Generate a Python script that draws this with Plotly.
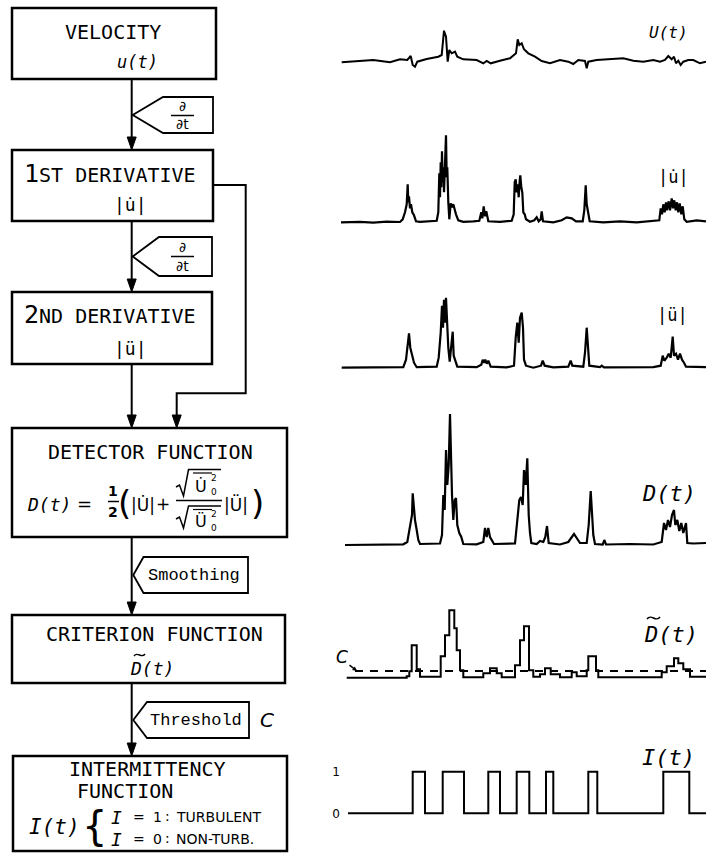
import plotly.graph_objects as go

W, H = 706, 864

# ---------------- signal data (time in samples, amplitude in trace units) ----------------
u_t = [0.7, 19, 32.3, 49, 59, 66.3, 69.7, 71.7, 74, 76.3, 85.7, 97.3, 100.7, 103, 105, 106.7, 108.3,
       110.7, 114, 116.3, 122.3, 135.7, 142.3, 145.7, 149.7, 159, 169, 175, 176.7, 178.3, 180.7, 183,
       187.3, 194, 200.7, 209, 219, 227.3, 232.3, 237.3, 244, 245.7, 247.3, 255.7, 269, 282.3, 292.3,
       302.3, 312.3, 319, 324, 327.3, 330.7, 333, 335, 337.3, 339.7, 342.3, 347.3, 352.3, 359, 365]
u_v = [-0.3, 1.3, 2, -0.3, 2.7, 2, 6, -3, -4.7, 0.3, 3, 5.3, 7, 31.3, 25.3, 0.3, 12,
       8.7, 10.3, 5.3, 2.7, 2, -1.3, 1, -1.3, 1.3, 3.7, 8.7, 22.7, 17, 18.7, 12.7,
       8.7, 5.3, 1, -1.3, 2, 0.3, -2, 2, 1, -6.3, 0.3, 2, 2.7, 3.7, 1.3,
       0.3, 2, 0.3, 2, 6, 2.7, 5.3, -1.3, 1.3, -3, 0.3, 2, 2, -1.3, 0.3]

du_t = [0, 19, 32.3, 45.7, 59, 61.7, 64, 65.7, 66.7, 67.3, 68, 69, 70, 71.3, 73, 75, 79, 89, 95.7,
        97.3, 98.3, 99, 99.7, 100.3, 101, 101.7, 102.3, 103, 104, 105, 105.7, 106.3, 107.3, 108.3,
        109.7, 111, 112.3, 113.7, 115, 117.3, 122.3, 132.3, 138.3, 140.3, 141.3, 142.7, 144, 145.3,
        147.3, 159, 170.7, 172.7, 173.7, 174.7, 175.7, 176.7, 177.7, 178.7, 179.3, 180.3, 181.3,
        182.3, 183.7, 185, 189, 193.3, 195.7, 197.7, 199.7, 200.7, 202, 212.3, 220.7, 225.7, 230.7,
        235, 241.7, 243.3, 244.7, 245.7, 247, 248.7, 262.3, 279, 295.7, 312.3, 318.3, 319.7, 321,
        322.3, 323.7, 325, 326, 327.7, 329, 330.7, 332, 333.3, 334.7, 336, 337.3, 338.7, 340.3,
        341.7, 343.3, 345.7, 355.7, 365]
du_v = [0, 0.5, -0.3, 0.7, 0.3, 3, 10, 18, 38, 20, 26, 14, 18, 10, 7, 1, 0.5, 1, 1.5,
        10, 49, 25, 60, 35, 71, 40, 55, 30, 62, 87, 45, 55, 20, 3,
        19, 15, 18, 12, 8, 2, 0.5, 1, 1.5, 10, 4, 16, 6, 11,
        1, 0.5, 1.5, 8, 40, 43, 30, 38, 25, 42, 47, 35, 30,
        10, 8, 3, 0.5, 2, 5, 1, 3, 11, 1, 0, 2, 5, 4,
        1, 1, 12, 37, 18, 10, 1, 0, 1, 0, 1, 2, 14, 8,
        18, 10, 20, 12, 21, 12, 24, 14, 22, 12, 20, 10, 19, 8,
        16, 3, 0.5, 2, 1]

ddu_t = [0.7, 29, 45.7, 62.3, 65, 67, 68, 69.3, 71, 73, 75.7, 95.7, 97.7, 99.7, 101, 102, 103, 104,
         105, 106, 107.3, 108.7, 110, 111.7, 112.7, 114.3, 116.3, 135.7, 140.3, 141.7, 143, 144.3,
         145.7, 147.3, 149.7, 165.7, 173, 174.7, 176.3, 177.7, 179, 180.7, 182, 183, 185, 192.3, 200,
         201.7, 203.7, 212.3, 227.3, 229.7, 231.3, 242.3, 244, 245.7, 247, 248.3, 259, 260.7, 263,
         285.7, 312.3, 319.7, 321.7, 323.3, 325.7, 327.7, 329.7, 331.7, 333, 335, 337, 339, 341, 343,
         345, 365]
ddu_v = [0, 0.3, 0.7, 0.5, 8, 25, 34.3, 20, 12, 5, 0.5, 1, 10, 35, 62, 40, 68, 45,
         70, 38, 20, 6, 18, 36, 12, 7, 1, 0.5, 3, 8, 5, 8,
         4, 7, 1, 0.3, 2, 30, 45, 25, 50, 55, 40, 8, 2, 0, 2,
         7, 2, 0.3, 1, 7, 2, 1, 15, 40, 15, 2, 0.5, 2, 0.3,
         0.5, 0.5, 2, 12, 7, 10, 14, 10, 31, 12, 14, 8, 14, 8, 5,
         1, 0.5]

d_t = [4, 32.3, 45.7, 62.3, 66.3, 69, 71, 71.7, 72.7, 74, 75.7, 77.3, 79, 99, 101, 102.3, 103.7, 105,
       106.3, 107.7, 109, 110, 111, 112.3, 113.7, 115, 116.3, 118.3, 120.3, 122.3, 135.7, 142.3, 144,
       145.7, 147.3, 149, 151, 153, 174, 176.3, 178.3, 180, 181.7, 183, 184.7, 186.3, 187.7, 189,
       190.3, 195.7, 199, 202.3, 204.3, 206, 207.7, 219, 227.3, 233, 239, 245.7, 247.7, 249.7, 251,
       252.3, 254, 261.7, 263.3, 265, 289, 312.3, 320.7, 323, 325, 327, 329, 331, 333, 334.3, 336.3,
       338.3, 340.3, 342.3, 345, 346.3, 352.3, 365]
d_v = [0, 0.5, 1, 0.7, 3, 20, 30, 51.7, 35, 25, 15, 5, 1, 1.5, 10, 50, 35, 95,
       60, 80, 131, 70, 50, 25, 45, 47, 20, 12, 8, 1, 0.7, 3, 17,
       8, 17, 8, 4, 1, 1.5, 25, 45, 48, 40, 75, 60, 86.7, 30, 12,
       2, 1, 4, 3, 8, 19, 2, 0.5, 3, 11, 2, 2, 20, 54, 25,
       10, 1, 0.5, 5, 0.5, 1, 0.5, 3, 22, 15, 25, 18, 30, 35, 20, 25,
       14, 22, 12, 22, 2, 1.5, 2]

dt_t = [5.7, 65.7, 68.3, 70.7, 75.7, 79, 99.7, 104, 108.3, 113.3, 115.7, 119, 122.3, 142.3, 149,
        155.7, 160.7, 174, 179, 183, 188, 192.3, 199, 204, 209.7, 219, 230.7, 235.7, 245.7, 247.3,
        255, 257.3, 320.7, 325.7, 333, 337.3, 342.3, 349, 365]
dt_v = [0.5, 2, 7, 33, 9, 1.5, 22, 43, 68, 50, 28, 8, 1, 5, 10,
        5, 1, 13, 38, 52, 8, 1.5, 4, 10, 4, 1, 6, 2, 8, 22,
        8, 1, 6, 12, 20, 15, 9, 1.5, 1]
threshold_t = [14, 365]
threshold_c = [7.3, 7.3]

i_t = [7, 71.7, 84, 101.7, 123, 147.3, 159, 175.7, 188.3, 205, 212.3, 247.3, 256.3, 322.3, 348.3, 365]
i_v = [0, 1, 0, 1, 0, 1, 0, 1, 0, 1, 0, 1, 0, 1, 0, 0]
i_ticks = [0, 1]
i_ticklabels = ["0", "1"]

# ---------------- helpers ----------------
def px(x):
    return x / W

def py(y):
    return 1 - y / H

MONO = "DejaVu Sans Mono"
SANS = "DejaVu Sans"
COUR = "Liberation Mono"

fig = go.Figure()

# panels: (top_px, bottom_px, vmin, vmax)
panels = [
    (20, 80, -18, 42),
    (125, 235, -12.7, 97.3),
    (290, 380, -12.3, 77.7),
    (405, 555, -10, 140),
    (600, 690, -11.7, 78.3),
    (760, 825, -0.281, 1.281),
]
series = [
    (u_t, u_v, "linear", 2),
    (du_t, du_v, "linear", 2.2),
    (ddu_t, ddu_v, "linear", 2.2),
    (d_t, d_v, "linear", 2.2),
    (dt_t, dt_v, "hv", 2),
    (i_t, i_v, "hv", 2),
]
x0_px = 341
for k, ((top, bot, vmin, vmax), (tt, vv, shp, lw)) in enumerate(zip(panels, series)):
    n = k + 2
    xa = "x%d" % n
    ya = "y%d" % n
    fig.add_trace(go.Scatter(x=tt, y=vv, mode="lines", line=dict(color="black", width=lw, shape=shp),
                             xaxis=xa, yaxis=ya, hoverinfo="skip", showlegend=False))
    fig.layout["xaxis%d" % n] = dict(domain=[px(x0_px), 1.0], range=[0, 365], visible=False,
                                     anchor=ya, fixedrange=True)
    yd = dict(domain=[py(bot), py(top)], range=[vmin, vmax], visible=False, anchor=xa, fixedrange=True)
    if n == 7:
        yd.update(visible=True, showgrid=False, zeroline=False, showline=False, ticks="",
                  tickvals=i_ticks, ticktext=i_ticklabels,
                  tickfont=dict(family=SANS, size=12, color="black"))
    fig.layout["yaxis%d" % n] = yd
    if n == 6:
        fig.add_trace(go.Scatter(x=threshold_t, y=threshold_c, mode="lines",
                                 line=dict(color="black", width=1.8, dash="8px,7px"),
                                 xaxis=xa, yaxis=ya, hoverinfo="skip", showlegend=False))

shapes = []
ann = []

def rect(x0, y0, x1, y1, w=2.5):
    shapes.append(dict(type="rect", xref="paper", yref="paper", x0=px(x0), x1=px(x1), y0=py(y1), y1=py(y0),
                       line=dict(color="black", width=w), fillcolor="rgba(0,0,0,0)"))

def path(pts, w=2, closed=False, fill=None):
    d = "M " + " L ".join("%.5f %.5f" % (px(a), py(b)) for a, b in pts)
    if closed:
        d += " Z"
    s = dict(type="path", xref="paper", yref="paper", path=d, line=dict(color="black", width=w))
    if fill:
        s["fillcolor"] = fill
    shapes.append(s)

def tilde(x0, x1, y, amp=2.2, w=1.4):
    xm1 = x0 + (x1 - x0) / 3
    xm2 = x0 + 2 * (x1 - x0) / 3
    d = "M %.5f %.5f C %.5f %.5f, %.5f %.5f, %.5f %.5f" % (
        px(x0), py(y + 1), px(xm1), py(y - amp * 2), px(xm2), py(y + amp * 2), px(x1), py(y - 1))
    shapes.append(dict(type="path", xref="paper", yref="paper", path=d, line=dict(color="black", width=w)))

def arrow_down(x, y):
    path([(x - 4.5, y - 13), (x + 4.5, y - 13), (x, y)], w=1, closed=True, fill="black")

def text(x, y, s, size=18, family=MONO, xanchor="center"):
    ann.append(dict(x=px(x), y=py(y), xref="paper", yref="paper", text=s, showarrow=False,
                    xanchor=xanchor, yanchor="middle", font=dict(family=family, size=size, color="black")))

def tag(xp, yp, xc, xr, top, bot):
    path([(xp, yp), (xc, top), (xr, top), (xr, bot), (xc, bot)], w=1.8, closed=True)

# ---------------- boxes ----------------
rect(12, 8, 216, 79)
rect(12, 150, 213, 221)
rect(12, 292, 212, 364)
rect(12, 428, 287, 537)
rect(12, 615, 285, 683)
rect(13, 756, 287, 851)

# main vertical connectors
LX = 131.7
for y0, y1 in [(79, 150), (221, 292), (364, 428), (537, 615), (683, 756)]:
    path([(LX, y0), (LX, y1 - 6)], w=2)
    arrow_down(LX, y1)

# side connector from 1st derivative to detector
path([(213, 185), (245.7, 185), (245.7, 393.3), (176.7, 393.3), (176.7, 422)], w=2)
arrow_down(176.7, 428)

# operation tags
tag(132.7, 115, 163, 213, 97, 133)
tag(132.7, 256.5, 159, 212, 237, 276)
tag(133.3, 575, 143.5, 248, 557, 593)
tag(133.3, 720, 147, 249, 702, 738)

# d/dt labels
for yc in (115.5, 256.5):
    text(182, yc - 9, "∂", size=14, family=SANS)
    path([(171, yc), (194, yc)], w=1.5)
    text(182, yc + 9, "∂t", size=14, family=SANS)

text(194, 575, "Smoothing", size=17, family=COUR)
text(196, 720, "Threshold", size=17, family=COUR)
text(267, 720, "<i>C</i>", size=20, family=SANS)

# box texts
text(113, 32, "VELOCITY", size=20)
text(137, 62, "<i>u(t)</i>", size=17)
text(110, 173, "<span style='font-size:25px'>1</span>ST DERIVATIVE", size=20)
text(130, 204, "|u\u0307|", size=18)
text(110, 315, "<span style='font-size:25px'>2</span>ND DERIVATIVE", size=20)
text(130, 348, "|u\u0308|", size=18)
text(150, 452, "DETECTOR FUNCTION", size=20)
text(154, 634, "CRITERION FUNCTION", size=20)
text(152, 668, "<i>D(t)</i>", size=18)
tilde(134, 145, 655)
text(147, 769, "INTERMITTENCY", size=20)
text(125, 791, "FUNCTION", size=20)

# formula  D(t) = 1/2 ( |U| + sqrt(U0^2)/sqrt(U0^2) |U| )
text(49, 504, "<i>D(t)</i>", size=18)
text(84, 503, "=", size=18, family=SANS)
text(113, 491, "<b>1</b>", size=14, family=SANS)
path([(108, 501.5), (119, 501.5)], w=1.5)
text(113, 512, "<b>2</b>", size=14, family=SANS)
text(125, 503, "(", size=34, family=SANS)
text(143, 505, "|U\u0307|", size=17, family=SANS)
text(163, 504, "+", size=17, family=SANS)
# numerator radical
path([(176, 487), (179.5, 485), (183.5, 496), (188.5, 469.5), (221, 469.5)], w=1.5)
path([(193, 473), (212, 473)], w=1.2)
text(201, 486, "U\u0307", size=16, family=SANS)
text(214, 478, "2", size=9, family=SANS)
text(214, 492, "0", size=9, family=SANS)
path([(176, 500.5), (222, 500.5)], w=1.5)
# denominator radical
path([(176, 519), (179.5, 517), (183.5, 528), (188.5, 506), (221, 506)], w=1.5)
path([(193, 509.5), (212, 509.5)], w=1.2)
text(201, 521, "U\u0308", size=16, family=SANS)
text(214, 514, "2", size=9, family=SANS)
text(214, 528, "0", size=9, family=SANS)
text(236, 505, "|U\u0308|", size=17, family=SANS)
text(257, 503, ")", size=34, family=SANS)

# intermittency definition
text(54, 827, "<i>I(t)</i>", size=21)
text(94, 826, "{", size=40, family=SANS)
text(116, 817, "<i>I</i>", size=18)
text(139, 817, "=", size=14, family=SANS)
text(157, 817, "1", size=14, family=SANS)
text(167, 816, ":", size=14, family=SANS)
text(174, 817, "TURBULENT", size=14, family=SANS, xanchor="left")
text(116, 839, "<i>I</i>", size=18)
text(139, 839, "=", size=14, family=SANS)
text(157, 839, "0", size=14, family=SANS)
text(167, 838, ":", size=14, family=SANS)
text(174, 839, "NON-TURB.", size=14, family=SANS, xanchor="left")

# signal labels
text(668, 33, "<i>U(t)</i>", size=16)
text(673, 177, "|u\u0307|", size=17)
text(672, 315, "|u\u0308|", size=17)
text(669, 493, "<i>D(t)</i>", size=22)
text(671, 634, "<i>D(t)</i>", size=22)
tilde(647, 660, 618, amp=2.5, w=1.6)
text(668, 757, "<i>I(t)</i>", size=22)

# threshold label C with hook arrow
text(342, 657, "<i>C</i>", size=17, family=SANS)
ann.append(dict(x=px(357), y=py(671), xref="paper", yref="paper", axref="pixel", ayref="pixel",
                ax=-9, ay=-7, text="", showarrow=True, arrowhead=2, arrowsize=0.6, arrowwidth=1.5,
                arrowcolor="black"))

fig.update_layout(width=W, height=H, margin=dict(l=0, r=0, t=0, b=0), paper_bgcolor="white",
                  plot_bgcolor="rgba(0,0,0,0)", shapes=shapes, annotations=ann, showlegend=False,
                  xaxis=dict(visible=False), yaxis=dict(visible=False))

fig.write_html("out.html")
